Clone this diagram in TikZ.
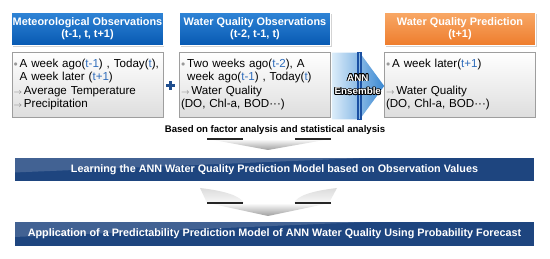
\documentclass[tikz,border=0pt]{standalone}
\usepackage{fontspec}
\setmainfont{Liberation Sans}
\usepackage{xcolor}
\usepackage{contour}
\usepackage{tikz}
\usetikzlibrary{calc,shadows,arrows.meta}
\contourlength{0.7pt}
\definecolor{hblue1}{HTML}{2F84D6}
\definecolor{hblue2}{HTML}{0759B2}
\definecolor{horange1}{HTML}{F8A866}
\definecolor{horange2}{HTML}{EE7C2C}
\definecolor{barnavy}{HTML}{1E457F}
\definecolor{tblue}{HTML}{2E6CBB}
\definecolor{annlight}{HTML}{DCEDFA}
\definecolor{annblue}{HTML}{3A88D2}
\definecolor{annbar}{HTML}{1A50A2}
\definecolor{plusblue}{HTML}{1F4E8E}
\newcommand{\tv}[1]{\textcolor{tblue}{#1}}
\newcommand{\bul}{\textcolor{black!40}{\raisebox{0.1ex}{\footnotesize$\bullet$}}\,}
\newcommand{\arr}{\textcolor{black!55}{\footnotesize$\rightarrow$}\,}

\begin{document}
\begin{tikzpicture}[x=1pt,y=1pt,
  head/.style={draw=white,line width=1.2pt,minimum width=151pt,minimum height=33pt,inner sep=1pt,align=center,text=white,font=\bfseries\fontsize{10.9}{12}\selectfont,drop shadow={shadow xshift=1pt,shadow yshift=-1.2pt,opacity=0.35}},
  headblue/.style={head,top color=hblue1,bottom color=hblue2},
  headorange/.style={head,top color=horange1,bottom color=horange2},
  body/.style={draw=black!38,line width=0.6pt,top color=white,bottom color=black!13,minimum width=151pt,minimum height=65pt,text width=148pt,inner xsep=1.5pt,align=left,font=\fontsize{11.6}{13.6}\selectfont,drop shadow={shadow xshift=0.8pt,shadow yshift=-0.8pt,opacity=0.2}},
  bar/.style={draw=white,line width=1.2pt,fill=barnavy,minimum width=521pt,inner sep=1pt,text=white,font=\bfseries\fontsize{10.8}{12}\selectfont,drop shadow={shadow xshift=1pt,shadow yshift=-1.2pt,opacity=0.45},
    path picture={\fill[white,opacity=0.16] (path picture bounding box.north west) -- ($(path picture bounding box.north west)!0.72!(path picture bounding box.north east)$) -- ($(path picture bounding box.west)+(0,-3)$) -- cycle;}},
  chev/.style={top color=white,bottom color=black!38},
  fan/.style={top color=black!14,bottom color=black!3},
  fold/.style={black!85,line width=1.1pt},
  lab/.style={font=\bfseries\fontsize{9.6}{11}\selectfont}]
\useasboundingbox (0,0) rectangle (550,-259);
\node[headblue] (met-head) at (87.5,-29) {Meteorological Observations\\(t-1, t, t+1)};
\node[headblue] (wq-head) at (255,-29) {Water Quality Observations\\(t-2, t-1, t)};
\node[headorange] (pred-head) at (460,-29) {Water Quality Prediction\\(t+1)};
\node[body] (met-body) at (87.5,-84.5) {\bul A week ago(\tv{t-1}) , Today(\tv{t}),\\\hphantom{\bul}A week later (\tv{t+1})\\\arr Average Temperature\\\arr Precipitation};
\node[body] (wq-body) at (255,-84.5) {\bul Two weeks ago(\tv{t-2}), A\\\hphantom{\bul}week ago(\tv{t-1}) , Today(\tv{t})\\\arr Water Quality\\(DO, Chl-a, BOD···)};
\node[body] (pred-body) at (460,-84.5) {\bul A week later(\tv{t+1})\\\mbox{}\\\arr Water Quality\\(DO, Chl-a, BOD···)};
\node[inner sep=0pt,minimum size=9pt] (plus) at (170,-85.5) {};
\fill[plusblue] ($(plus.center)+(-4.5,-1.5)$) rectangle ($(plus.center)+(4.5,1.5)$);
\fill[plusblue] ($(plus.center)+(-1.5,-4.5)$) rectangle ($(plus.center)+(1.5,4.5)$);
\coordinate (ann-a) at ($(wq-body.north east)+(1,-1)$);
\coordinate (ann-e) at ($(wq-body.south east)+(1,-2)$);
\coordinate (ann-tip) at ($(pred-body.west)+(0,-1.5)$);
\shade[left color=annlight,right color=annblue] (ann-a) -- ++(28,0) -- (ann-tip) -- ($(ann-e)+(28,0)$) -- (ann-e) -- cycle;
\fill[annbar] ($(ann-a)+(25,1)$) rectangle ($(ann-e)+(30,-1)$);
\draw[annblue!60!white,line width=0.6pt] ($(ann-a)+(27.5,0)$) -- ($(ann-e)+(27.5,0)$);
\node[text=white,align=center,font=\bfseries\fontsize{9.8}{13.5}\selectfont] (ann) at ($(ann-a)!0.5!(ann-e)+(26,1)$) {\contour{black}{ANN}\\\contour{black}{Ensemble}};
\node[lab] (basis) at (275,-130) {Based on factor analysis and statistical analysis};
\node[bar,minimum height=25pt] (learn) at (274.5,-169.5) {Learning the ANN Water Quality Prediction Model based on Observation Values};
\node[bar,minimum height=26pt] (apply) at (274.5,-234) {Application of a Predictability Prediction Model of ANN Water Quality Using Probability Forecast};
\shade[fan] (200,-188) .. controls (226,-191) and (240,-196) .. (244,-203) -- (207,-203) -- cycle;
\shade[fan] (337,-188) .. controls (311,-191) and (297,-196) .. (294,-203) -- (329,-203) -- cycle;
\foreach \cy/\ch in {139/11,203/13} {
  \shade[chev] (208,-\cy) -- (330,-\cy) -- (268,-\cy-\ch) -- cycle;
  \draw[fold] (207,-\cy) -- (243,-\cy);
  \draw[fold] (331,-\cy) -- (295,-\cy);
}
\end{tikzpicture}
\end{document}
